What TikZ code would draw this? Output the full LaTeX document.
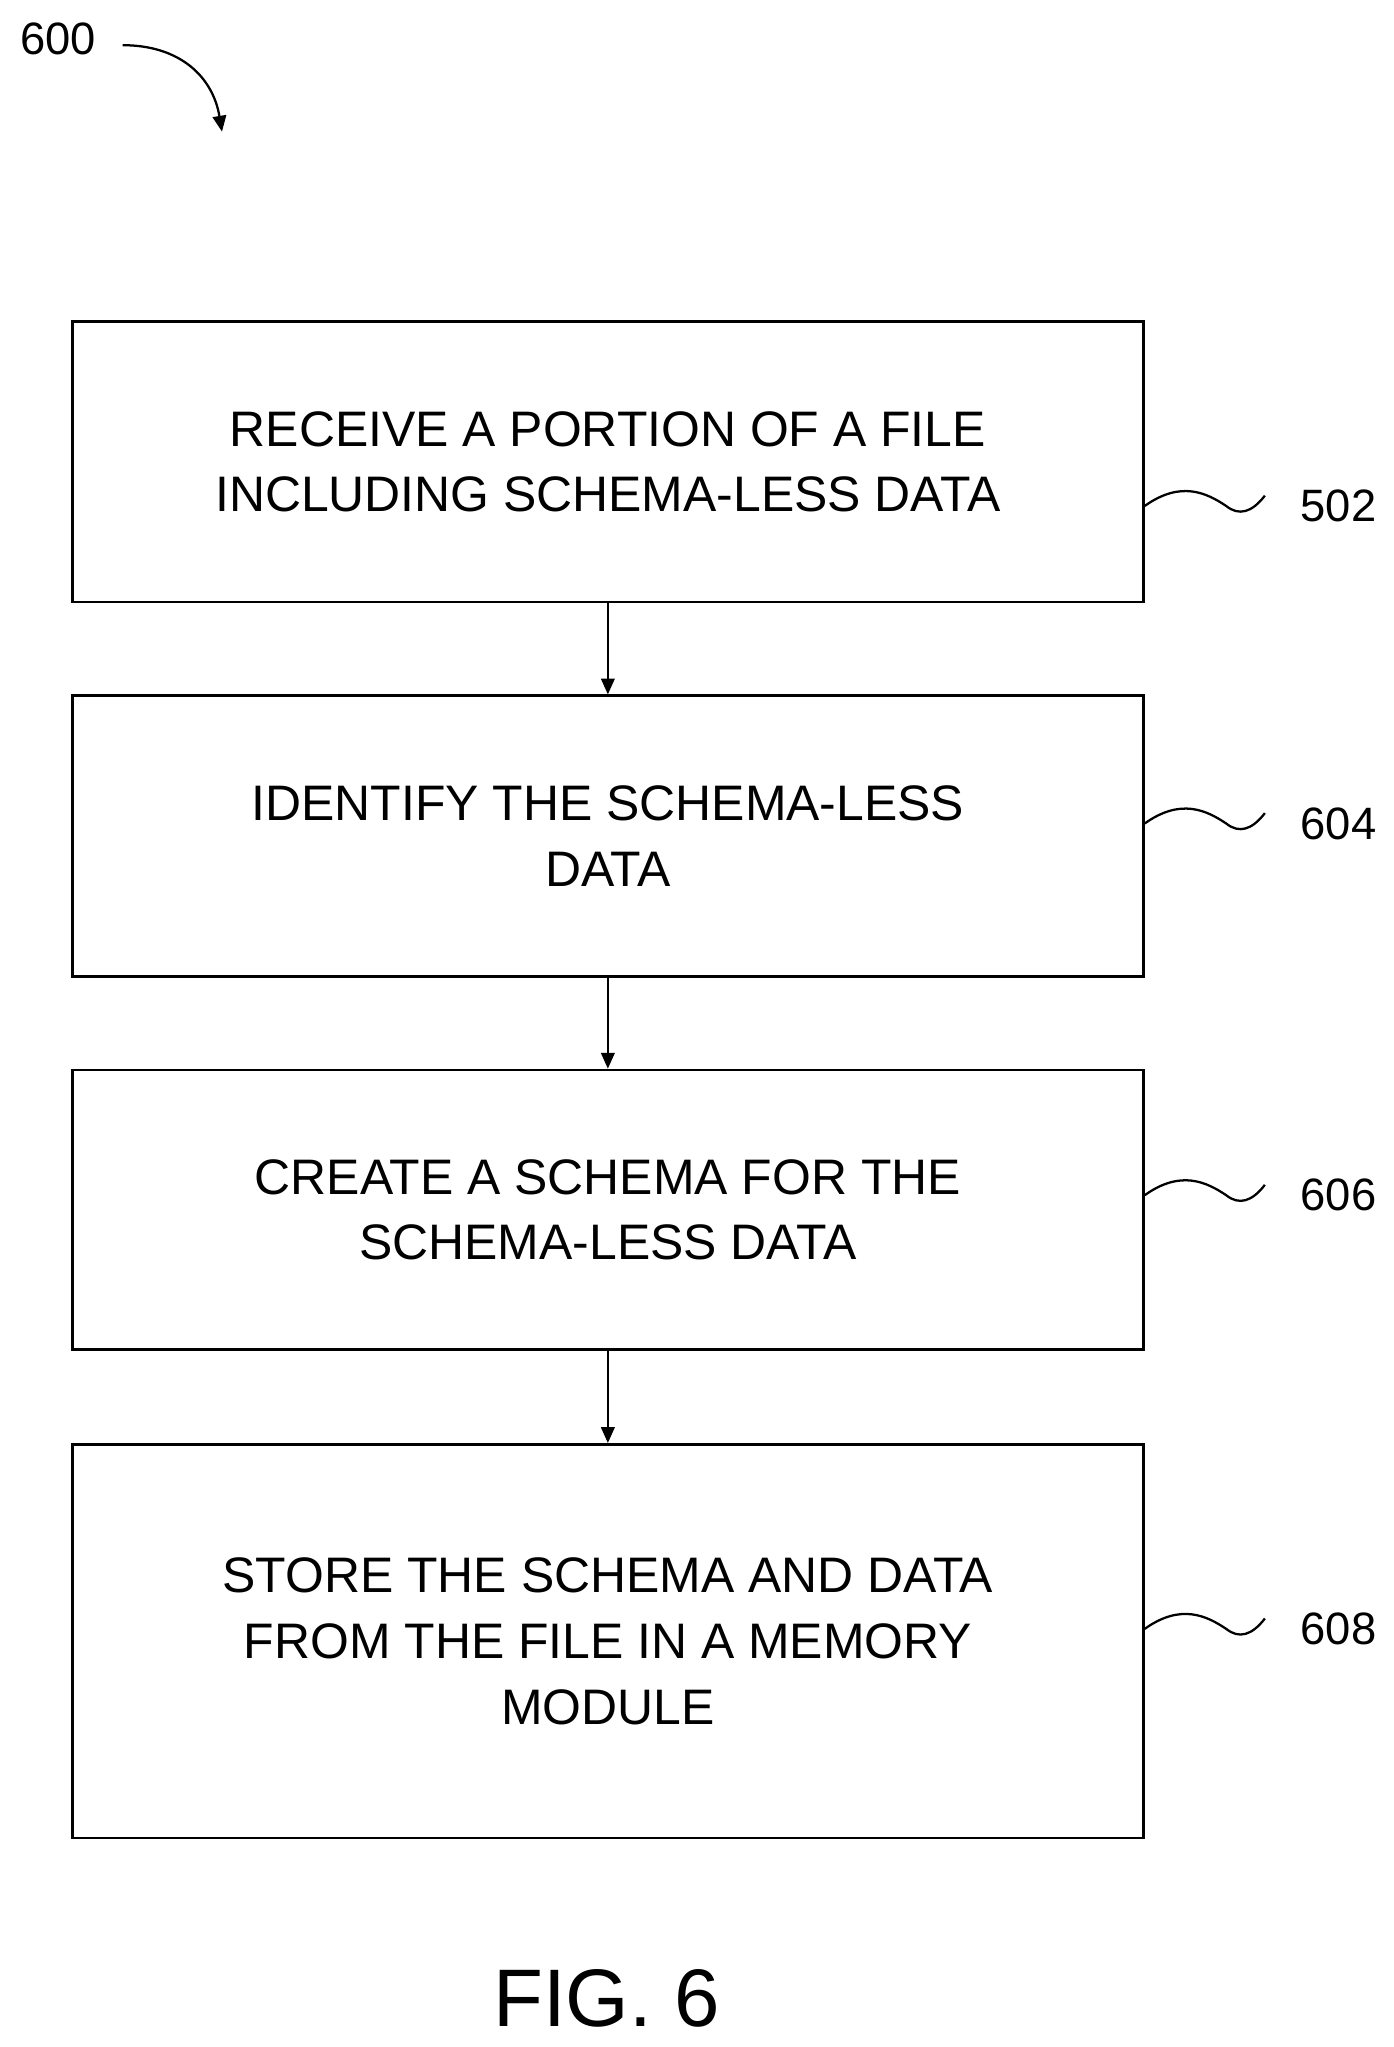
\documentclass[tikz,border=0pt]{standalone}
\usepackage{fontspec}
\setmainfont{Liberation Sans}
\usetikzlibrary{arrows.meta}
\begin{document}
\begin{tikzpicture}[x=0.02cm,y=-0.02cm,
 box/.style={draw,line width=1.2pt,minimum width=16.6cm,anchor=north west,align=center,font=\fontsize{22}{29}\selectfont,inner sep=0pt},
 lbl/.style={font=\fontsize{20}{24}\selectfont},
 arr/.style={-{Triangle[length=7pt,width=6pt]},line width=1pt}]
\useasboundingbox (0,0) rectangle (1080,1586);
\node[box,minimum height=4.35cm] (b1) at (55,248) {RECEIVE A PORTION OF A FILE\\INCLUDING SCHEMA-LESS DATA};
\node[box,minimum height=4.35cm] (b2) at (55,538) {IDENTIFY THE SCHEMA-LESS\\DATA};
\node[box,minimum height=4.33cm] (b3) at (55,828) {CREATE A SCHEMA FOR THE\\SCHEMA-LESS DATA};
\node[box,minimum height=6.1cm] (b4) at (55,1118) {STORE THE SCHEMA AND DATA\\FROM THE FILE IN A MEMORY\\MODULE};
\draw[arr] (b1) -- (b2);
\draw[arr] (b2) -- (b3);
\draw[arr] (b3) -- (b4);
\foreach \b/\t/\y in {b1/502/392,b2/604/638,b3/606/926,b4/608/1262}{
 \node[lbl] (l\t) at (1037,\y) {\t};
 \draw[line width=1pt] (\b.east |- 0,\y) .. controls (915,\y-20) and (935,\y-10) .. (950,\y)
   .. controls (960,\y+8) and (970,\y+5) .. (980,\y-8);
}
\node[lbl] (n600) at (45,30) {600};
\coordinate (a600) at (172,102);
\draw[arr] (95,35) .. controls (140,35) and (165,60) .. (a600);
\node[font=\fontsize{36}{44}\selectfont] (fig) at (470,1548) {FIG. 6};
\end{tikzpicture}
\end{document}
